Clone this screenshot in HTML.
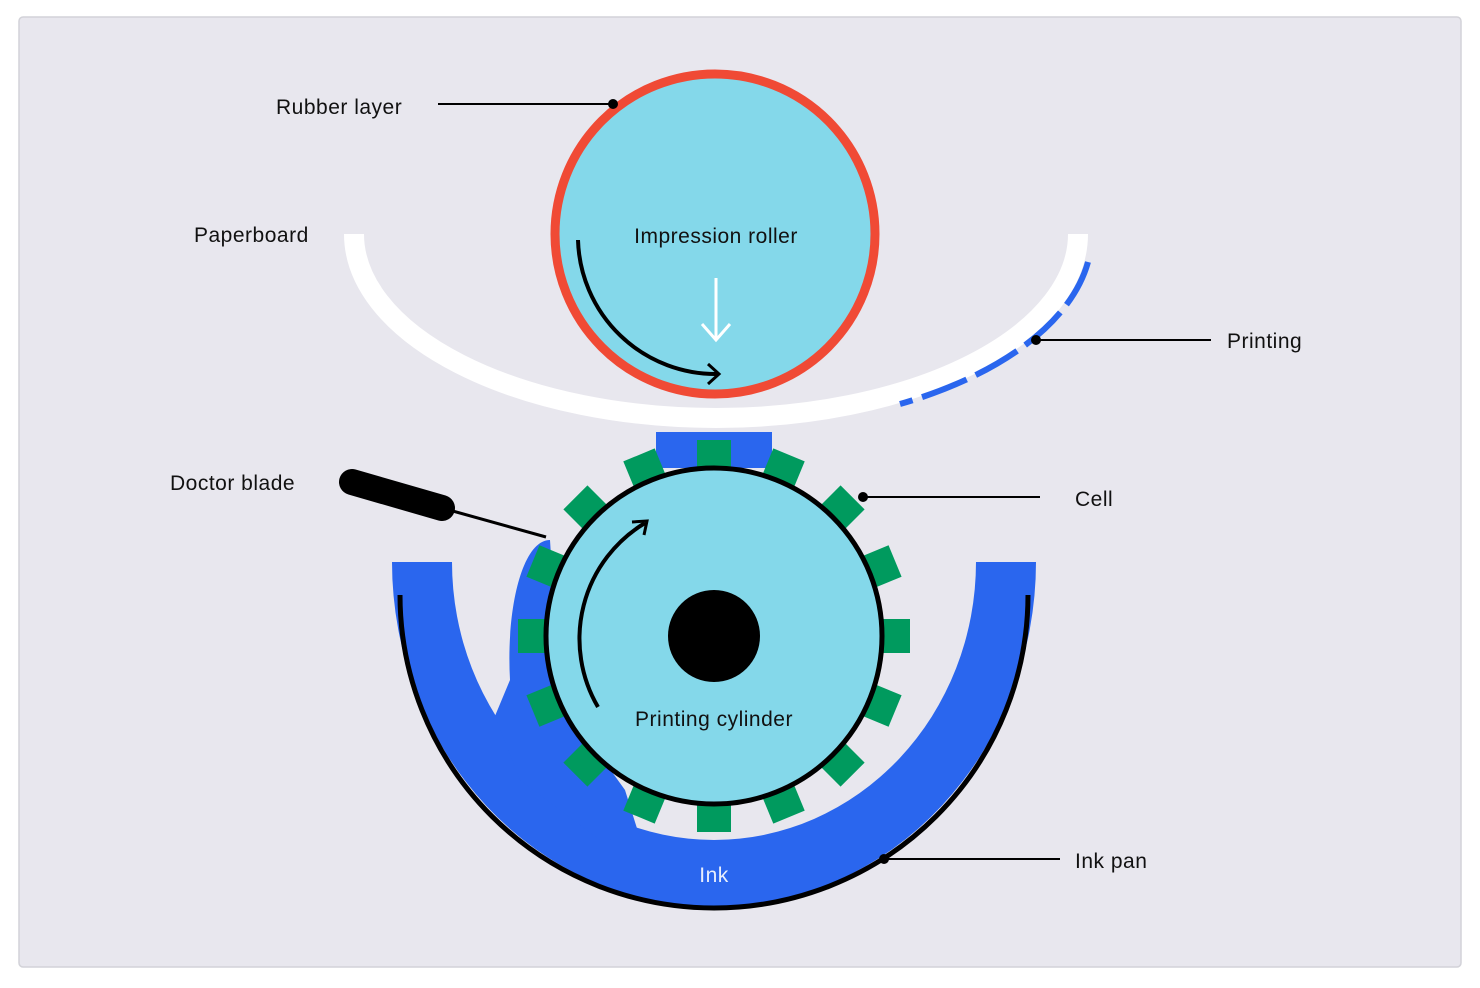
<!DOCTYPE html>
<html><head><meta charset="utf-8"><style>
html,body{margin:0;padding:0;background:#fff;}
svg{display:block;}
text{font-family:"Liberation Sans",sans-serif;font-size:21px;fill:#111;letter-spacing:0.5px;}
</style></head><body>
<svg width="1480" height="988" viewBox="0 0 1480 988" xmlns="http://www.w3.org/2000/svg">
<rect x="19" y="17" width="1442" height="950" rx="4" fill="#e8e7ee" stroke="#d2d2d8" stroke-width="1.5"/>

<!-- paperboard -->
<path d="M354,234 A362,184 0 0 0 1078,234" fill="none" stroke="#fff" stroke-width="20"/>
<path d="M1088,262 A372,194 0 0 1 900,404" fill="none" stroke="#2a66ee" stroke-width="6" stroke-dasharray="48,10"/>

<!-- impression roller -->
<ellipse cx="715" cy="234" rx="160" ry="160" fill="#84d8ea" stroke="#f04a35" stroke-width="9"/>
<path d="M578,240 A138,138 0 0 0 718,374" fill="none" stroke="#000" stroke-width="4"/>
<path d="M708,364 L719,374 L708,384" fill="none" stroke="#000" stroke-width="3"/>
<line x1="716" y1="278" x2="716" y2="340" stroke="#fff" stroke-width="3"/>
<path d="M702,324 L716,340 L730,324" fill="none" stroke="#fff" stroke-width="3"/>
<text x="716" y="243" text-anchor="middle">Impression roller</text>

<!-- ink top patch -->
<rect x="656" y="432" width="116" height="36" fill="#2a66ee"/>

<!-- ink pan band -->
<path d="M392,562 L452,562 A262,278 0 0 0 976,562 L1036,562 A322,345 0 0 1 392,562 Z" fill="#2a66ee"/>
<!-- ink blob -->
<path d="M550,540 C522,540 506,610 510,680 L495,716 L520,780 L600,840 L640,838 L625,790 L560,700 Z" fill="#2a66ee"/>
<path d="M400,595 A314,313 0 0 0 1028,595" fill="none" stroke="#000" stroke-width="5"/>

<!-- cells -->
<g fill="#009a5e">
<rect x="697" y="440" width="34" height="30" transform="rotate(0 714 636)"/>
<rect x="697" y="440" width="34" height="30" transform="rotate(22.5 714 636)"/>
<rect x="697" y="440" width="34" height="30" transform="rotate(45 714 636)"/>
<rect x="697" y="440" width="34" height="30" transform="rotate(67.5 714 636)"/>
<rect x="697" y="440" width="34" height="30" transform="rotate(90 714 636)"/>
<rect x="697" y="440" width="34" height="30" transform="rotate(112.5 714 636)"/>
<rect x="697" y="440" width="34" height="30" transform="rotate(135 714 636)"/>
<rect x="697" y="440" width="34" height="30" transform="rotate(157.5 714 636)"/>
<rect x="697" y="440" width="34" height="30" transform="rotate(180 714 636)"/>
<rect x="697" y="440" width="34" height="30" transform="rotate(202.5 714 636)"/>
<rect x="697" y="440" width="34" height="30" transform="rotate(225 714 636)"/>
<rect x="697" y="440" width="34" height="30" transform="rotate(247.5 714 636)"/>
<rect x="697" y="440" width="34" height="30" transform="rotate(270 714 636)"/>
<rect x="697" y="440" width="34" height="30" transform="rotate(292.5 714 636)"/>
<rect x="697" y="440" width="34" height="30" transform="rotate(315 714 636)"/>
<rect x="697" y="440" width="34" height="30" transform="rotate(337.5 714 636)"/>
</g>

<!-- printing cylinder -->
<circle cx="714" cy="636" r="168" fill="#84d8ea" stroke="#000" stroke-width="5"/>
<circle cx="714" cy="636" r="46" fill="#000"/>
<path d="M598,707 A135,135 0 0 1 645,523" fill="none" stroke="#000" stroke-width="4"/>
<path d="M632,522 L647,521 L644,535" fill="none" stroke="#000" stroke-width="3"/>
<text x="714" y="726" text-anchor="middle">Printing cylinder</text>

<!-- doctor blade -->
<line x1="352" y1="482" x2="442" y2="508" stroke="#000" stroke-width="26" stroke-linecap="round"/>
<line x1="442" y1="508" x2="546" y2="537" stroke="#000" stroke-width="3"/>

<text x="714" y="882" text-anchor="middle" style="fill:#e8eefc">Ink</text>

<!-- labels -->
<text x="276" y="114">Rubber layer</text>
<line x1="438" y1="104" x2="613" y2="104" stroke="#000" stroke-width="2"/>
<circle cx="613" cy="104" r="5" fill="#000"/>
<text x="194" y="242">Paperboard</text>
<text x="1227" y="348">Printing</text>
<line x1="1036" y1="340" x2="1211" y2="340" stroke="#000" stroke-width="2"/>
<circle cx="1036" cy="340" r="5" fill="#000"/>
<text x="170" y="490">Doctor blade</text>
<text x="1075" y="506">Cell</text>
<line x1="863" y1="497" x2="1040" y2="497" stroke="#000" stroke-width="2"/>
<circle cx="863" cy="497" r="5" fill="#000"/>
<text x="1075" y="868">Ink pan</text>
<line x1="884" y1="859" x2="1060" y2="859" stroke="#000" stroke-width="2"/>
<circle cx="884" cy="859" r="5" fill="#000"/>
</svg>
</body></html>
